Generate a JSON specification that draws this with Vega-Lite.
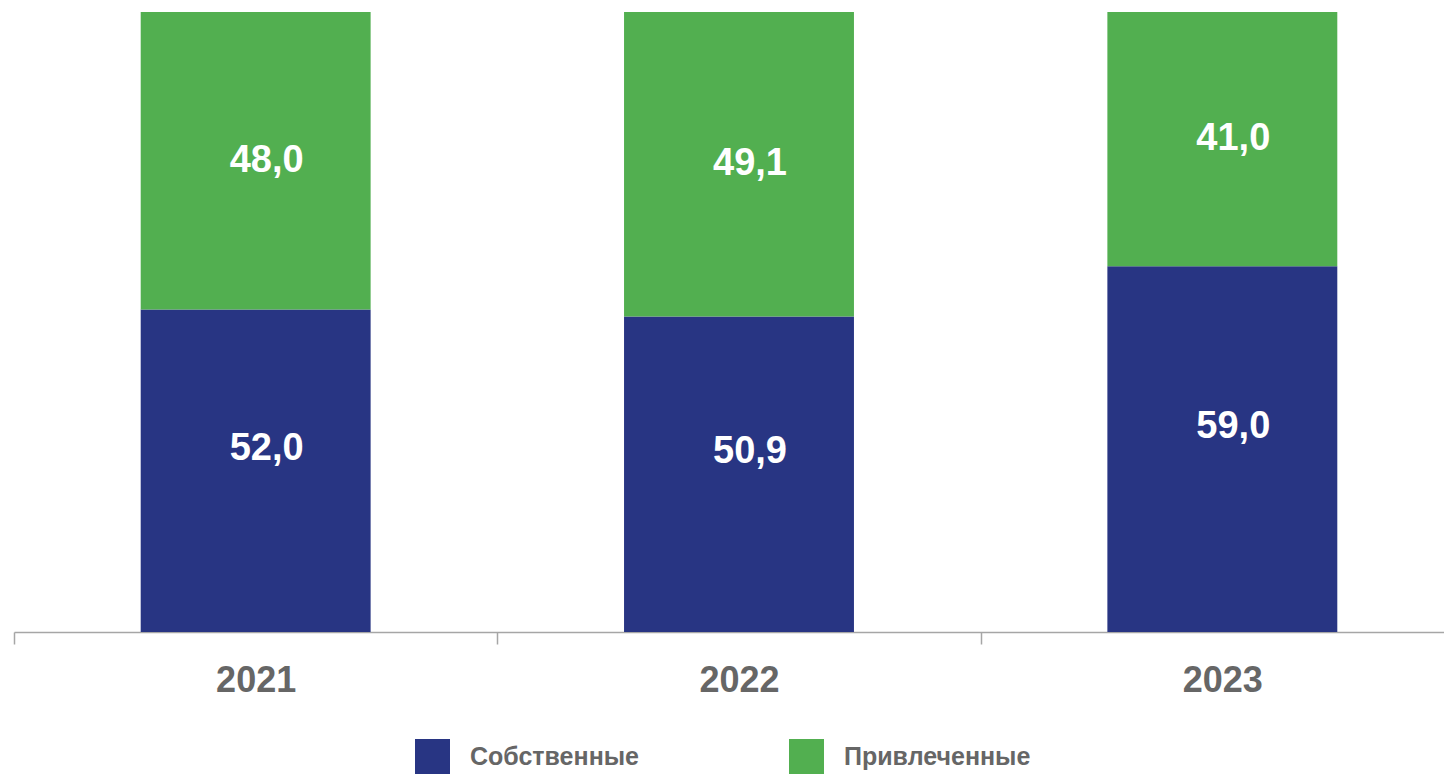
{
  "$schema": "https://vega.github.io/schema/vega-lite/v6.json",
  "width": 1450,
  "height": 620,
  "autosize": {"type": "none"},
  "padding": {"left": 14, "top": 12, "right": 0, "bottom": 144},
  "background": "white",
  "config": {"view": {"stroke": null}, "font": "Liberation Sans"},
  "data": {"values": [
    {"year": "2021", "type": "Собственные", "order": 1, "v": 52.0, "label": "52,0"},
    {"year": "2021", "type": "Привлеченные", "order": 2, "v": 48.0, "label": "48,0"},
    {"year": "2022", "type": "Собственные", "order": 1, "v": 50.9, "label": "50,9"},
    {"year": "2022", "type": "Привлеченные", "order": 2, "v": 49.1, "label": "49,1"},
    {"year": "2023", "type": "Собственные", "order": 1, "v": 59.0, "label": "59,0"},
    {"year": "2023", "type": "Привлеченные", "order": 2, "v": 41.0, "label": "41,0"}
  ]},
  "transform": [
    {"stack": "v", "groupby": ["year"], "sort": [{"field": "order", "order": "ascending"}], "as": ["v0", "v1"]},
    {"calculate": "(datum.v0 + datum.v1) / 2", "as": "mid"}
  ],
  "encoding": {
    "x": {"field": "year", "type": "nominal", "scale": {"paddingInner": 0, "paddingOuter": 0},
      "axis": {"title": null, "labelAngle": 0, "labelFont": "Liberation Sans", "labelFontWeight": "bold", "labelFontSize": 36, "labelColor": "#666666", "labelPadding": 19, "tickBand": "extent", "tickSize": 12, "tickColor": "#A6A6A6", "domainColor": "#A6A6A6", "domainWidth": 1.5, "tickWidth": 1.5}}
  },
  "layer": [
    {
      "mark": {"type": "bar", "width": {"band": 0.4757}},
      "encoding": {
        "y": {"field": "v0", "type": "quantitative", "scale": {"domain": [0, 100], "nice": false}, "axis": null},
        "y2": {"field": "v1"},
        "color": {"field": "type", "type": "nominal",
          "scale": {"domain": ["Собственные", "Привлеченные"], "range": ["#283583", "#52AF50"]},
          "legend": {"title": null, "orient": "none", "legendX": 401, "legendY": 727, "direction": "horizontal",
            "symbolType": "square", "symbolSize": 1225, "symbolStrokeWidth": 0, "symbolOpacity": 1,
            "labelFont": "Liberation Sans", "labelFontWeight": "bold", "labelFontSize": 25, "labelColor": "#666666",
            "labelOffset": 20, "columnPadding": 150, "labelLimit": 300}
        }
      }
    },
    {
      "transform": [{"filter": "datum.order == 2"}],
      "mark": {"type": "text", "color": "white", "fontWeight": "bold", "fontSize": 38, "font": "Liberation Sans", "baseline": "middle", "dx": 11},
      "encoding": {"y": {"field": "mid", "type": "quantitative"}, "text": {"field": "label"}}
    },
    {
      "transform": [{"filter": "datum.order == 1"}],
      "mark": {"type": "text", "color": "white", "fontWeight": "bold", "fontSize": 38, "font": "Liberation Sans", "baseline": "middle", "dy": -22, "dx": 11},
      "encoding": {"y": {"field": "mid", "type": "quantitative"}, "text": {"field": "label"}}
    }
  ]
}
